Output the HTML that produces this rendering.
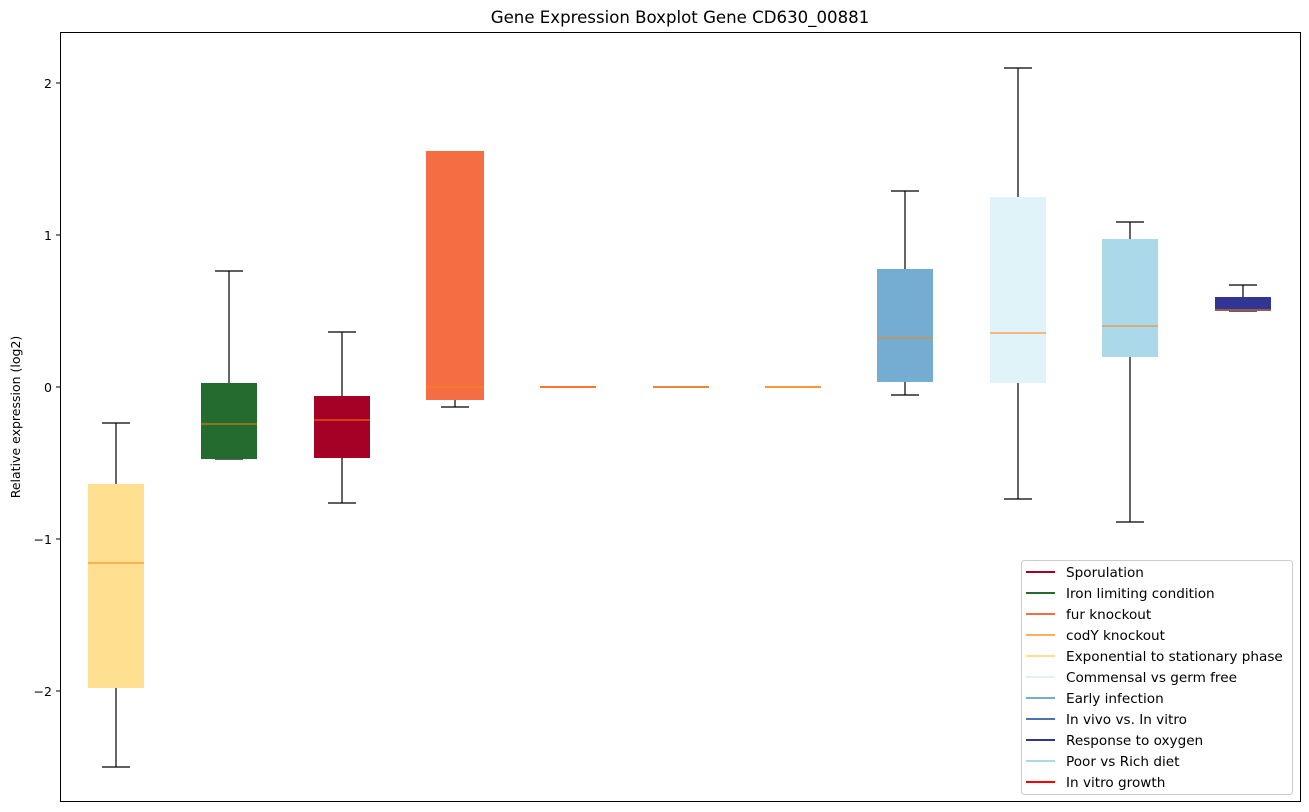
<!DOCTYPE html>
<html><head><meta charset="utf-8"><style>body{margin:0;background:#fff}svg{display:block;font-family:"DejaVu Sans","Liberation Sans",sans-serif}</style></head><body>
<svg width="1309" height="812" xmlns="http://www.w3.org/2000/svg">
<rect width="1309" height="812" fill="#fff"/>
<text x="680" y="23" font-size="16.6" text-anchor="middle">Gene Expression Boxplot Gene CD630_00881</text>
<g stroke="#000" stroke-width="1">
<line x1="56" y1="83" x2="60" y2="83"/><line x1="56" y1="235" x2="60" y2="235"/><line x1="56" y1="387" x2="60" y2="387"/><line x1="56" y1="539" x2="60" y2="539"/><line x1="56" y1="691" x2="60" y2="691"/>
</g>
<g font-size="12.5" text-anchor="end">
<text x="52" y="88">2</text><text x="52" y="240">1</text><text x="52" y="392">0</text><text x="52" y="544">−1</text><text x="52" y="696">−2</text>
</g>
<text transform="translate(20,417) rotate(-90)" font-size="12.5" text-anchor="middle">Relative expression (log2)</text>
<g stroke="#000" stroke-width="1.2">
<line x1="116" y1="423" x2="116" y2="484"/><line x1="116" y1="688" x2="116" y2="767"/><line x1="102" y1="423" x2="130" y2="423"/><line x1="102" y1="767" x2="130" y2="767"/>
<line x1="229" y1="271" x2="229" y2="383"/><line x1="215" y1="271" x2="243" y2="271"/><line x1="215" y1="459" x2="243" y2="459"/>
<line x1="342" y1="332" x2="342" y2="396"/><line x1="342" y1="458" x2="342" y2="503"/><line x1="328" y1="332" x2="356" y2="332"/><line x1="328" y1="503" x2="356" y2="503"/>
<line x1="455" y1="400" x2="455" y2="407"/><line x1="441" y1="407" x2="469" y2="407"/>
<line x1="905" y1="191" x2="905" y2="269"/><line x1="905" y1="382" x2="905" y2="395"/><line x1="891" y1="191" x2="919" y2="191"/><line x1="891" y1="395" x2="919" y2="395"/>
<line x1="1018" y1="68" x2="1018" y2="197"/><line x1="1018" y1="383" x2="1018" y2="499"/><line x1="1004" y1="68" x2="1032" y2="68"/><line x1="1004" y1="499" x2="1032" y2="499"/>
<line x1="1130" y1="222" x2="1130" y2="239"/><line x1="1130" y1="357" x2="1130" y2="522"/><line x1="1116" y1="222" x2="1144" y2="222"/><line x1="1116" y1="522" x2="1144" y2="522"/>
<line x1="1243" y1="285" x2="1243" y2="297"/><line x1="1229" y1="285" x2="1257" y2="285"/><line x1="1229" y1="311" x2="1257" y2="311"/>
</g>
<g>
<rect x="88" y="484" width="56" height="204" fill="#FEE090"/>
<rect x="201" y="383" width="56" height="76" fill="#236B2E"/>
<rect x="314" y="396" width="56" height="62" fill="#A50026"/>
<rect x="426" y="151" width="58" height="249" fill="#F46D43"/>
<rect x="540" y="386" width="56" height="2" fill="#F46D43"/>
<rect x="653" y="386" width="56" height="2" fill="#C89070"/>
<rect x="765" y="386" width="56" height="2" fill="#FDAE61"/>
<rect x="877" y="269" width="56" height="113" fill="#74ADD1"/>
<rect x="990" y="197" width="56" height="186" fill="#E0F3F8"/>
<rect x="1102" y="239" width="56" height="118" fill="#ABD9E9"/>
<rect x="1215" y="297" width="56" height="14" fill="#313695"/>
</g>
<g stroke="#FF7F0E" stroke-width="1">
<line x1="88" y1="563" x2="144" y2="563"/><line x1="201" y1="424" x2="257" y2="424"/><line x1="314" y1="420" x2="370" y2="420"/><line x1="426" y1="387" x2="484" y2="387"/>
<line x1="540" y1="387" x2="596" y2="387"/><line x1="653" y1="387" x2="709" y2="387"/><line x1="765" y1="387" x2="821" y2="387"/>
<line x1="877" y1="338" x2="933" y2="338"/><line x1="990" y1="333" x2="1046" y2="333"/><line x1="1102" y1="326" x2="1158" y2="326"/><line x1="1215" y1="310" x2="1271" y2="310"/>
</g>
<rect x="60.5" y="32.5" width="1240" height="769" fill="none" stroke="#000" stroke-width="1"/>
<rect x="1021.5" y="560.5" width="271" height="234" rx="3" fill="#fff" fill-opacity="0.8" stroke="#ccc"/>
<g stroke-width="2">
<line x1="1026" y1="572" x2="1055" y2="572" stroke="#A50026"/>
<line x1="1026" y1="593" x2="1055" y2="593" stroke="#236B2E"/>
<line x1="1026" y1="614" x2="1055" y2="614" stroke="#F46D43"/>
<line x1="1026" y1="635" x2="1055" y2="635" stroke="#FDAE61"/>
<line x1="1026" y1="656" x2="1055" y2="656" stroke="#FEE090"/>
<line x1="1026" y1="677" x2="1055" y2="677" stroke="#E0F3F8"/>
<line x1="1026" y1="698" x2="1055" y2="698" stroke="#74ADD1"/>
<line x1="1026" y1="719" x2="1055" y2="719" stroke="#4575B4"/>
<line x1="1026" y1="740" x2="1055" y2="740" stroke="#313695"/>
<line x1="1026" y1="761" x2="1055" y2="761" stroke="#ABD9E9"/>
<line x1="1026" y1="782" x2="1055" y2="782" stroke="#FF0000"/>
</g>
<g font-size="13.6">
<text x="1066" y="577">Sporulation</text>
<text x="1066" y="598">Iron limiting condition</text>
<text x="1066" y="619">fur knockout</text>
<text x="1066" y="640">codY knockout</text>
<text x="1066" y="661">Exponential to stationary phase</text>
<text x="1066" y="682">Commensal vs germ free</text>
<text x="1066" y="703">Early infection</text>
<text x="1066" y="724">In vivo vs. In vitro</text>
<text x="1066" y="745">Response to oxygen</text>
<text x="1066" y="766">Poor vs Rich diet</text>
<text x="1066" y="787">In vitro growth</text>
</g>
</svg>
</body></html>
